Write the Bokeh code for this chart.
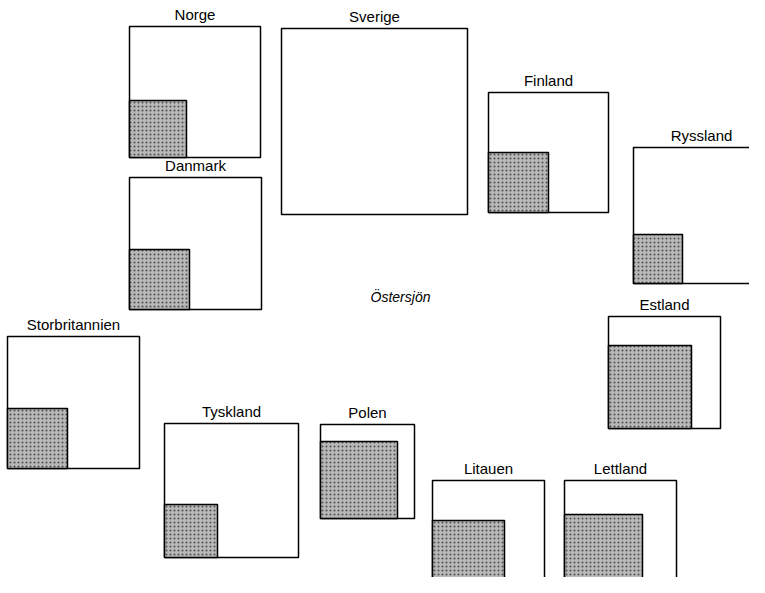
from bokeh.plotting import figure
from bokeh.models import ColumnDataSource, Range1d
from bokeh.core.properties import value
from bokeh.embed import file_html
from bokeh.resources import INLINE

# --- data: outer square side and inner (shaded) square side per country ---
countries = ["Norge", "Sverige", "Finland", "Danmark", "Ryssland", "Estland",
             "Storbritannien", "Tyskland", "Polen", "Litauen", "Lettland"]
outer_side = [131, 186, 120, 132, 136, 112, 132, 134, 94, 112, 112]
inner_side = [57, 0, 60, 60, 49, 83, 60, 53, 77, 72, 78]
sea_label = "Östersjön"

# --- layout: bottom-left corner of each country's square (page pixels) ---
box_left = [129, 281, 488, 129, 633, 608, 7, 164, 320, 432, 564]
box_bottom = [157, 214, 212, 309, 283, 428, 468, 557, 518, 592, 592]
sea_pos = (400, 296)

outer = dict(
    left=box_left,
    right=[l + s for l, s in zip(box_left, outer_side)],
    bottom=box_bottom,
    top=[b - s for b, s in zip(box_bottom, outer_side)],
    name=countries,
)
outer["lx"] = [(l + r) / 2 for l, r in zip(outer["left"], outer["right"])]
outer["ly"] = [t - 4 for t in outer["top"]]
src_outer = ColumnDataSource(outer)

idx = [i for i, s in enumerate(inner_side) if s > 0]
src_inner = ColumnDataSource(dict(
    left=[box_left[i] for i in idx],
    right=[box_left[i] + inner_side[i] for i in idx],
    bottom=[box_bottom[i] for i in idx],
    top=[box_bottom[i] - inner_side[i] for i in idx],
))

p = figure(width=749, height=577, output_backend="svg", toolbar_location=None,
           x_range=Range1d(0, 749), y_range=Range1d(577, 0),
           x_axis_location=None, y_axis_location=None, min_border=0)
p.grid.visible = False
p.outline_line_color = None
p.background_fill_color = "white"

p.quad(left="left", right="right", top="top", bottom="bottom", source=src_outer,
       fill_color="white", line_color="black", line_width=1.5)
p.quad(left="left", right="right", top="top", bottom="bottom", source=src_inner,
       fill_color="#b8b8b8", line_color="black", line_width=1.5,
       hatch_pattern="dot", hatch_color="#222222", hatch_scale=4, hatch_alpha=0.7)

p.text(x="lx", y="ly", text="name", source=src_outer,
       text_align="center", text_baseline="bottom",
       text_font=value("Liberation Sans"), text_font_size="15px", text_color="black")
p.text(x=[sea_pos[0]], y=[sea_pos[1]], text=[sea_label],
       text_align="center", text_baseline="middle",
       text_font=value("Liberation Sans"), text_font_size="14px",
       text_font_style="italic", text_color="black")

open("out.html", "w").write(file_html(p, INLINE))
